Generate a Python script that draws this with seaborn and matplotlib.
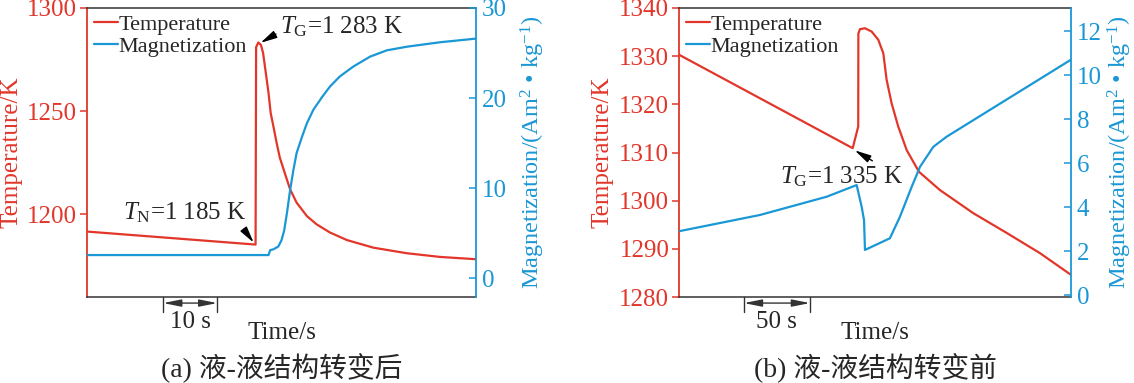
import matplotlib
matplotlib.use("Agg")
import matplotlib.pyplot as plt
import matplotlib.transforms as mtransforms
import seaborn as sns
import pandas as pd

# (a) after the liquid-liquid structure transition
A_T_TIME = [0, 31.2, 31.3, 31.7, 32.2, 32.6, 33.1, 33.6, 34.0, 34.5, 35.1, 35.7, 36.7, 37.6,
            38.8, 40.7, 42.5, 45.0, 48.1, 53.0, 59.2, 65.4, 72.0]
A_T_VAL = [1191.7, 1185.4, 1281.0, 1283.3, 1282.1, 1278.1, 1268.5, 1258.8, 1249.1, 1242.7,
           1234.6, 1227.4, 1219.3, 1212.1, 1205.7, 1199.2, 1195.2, 1191.2, 1187.6, 1183.9,
           1181.2, 1179.4, 1178.3]
A_M_TIME = [0, 33.6, 33.9, 34.5, 35.4, 36.0, 36.5, 37.0, 37.6, 38.2, 38.8, 39.8, 40.7, 41.9,
            43.5, 45.0, 46.8, 49.3, 52.4, 55.5, 59.2, 65.4, 72.0]
A_M_VAL = [2.56, 2.56, 3.1, 3.2, 3.5, 4.2, 5.3, 7.2, 9.8, 12.0, 13.9, 15.7, 17.2, 18.7,
           20.1, 21.3, 22.4, 23.5, 24.6, 25.3, 25.7, 26.2, 26.6]

# (b) before the liquid-liquid structure transition
B_T_TIME = [0, 131.6, 135.8, 135.9, 137.1, 140.9, 146.0, 151.0, 154.8, 157.3, 161.1, 166.1,
            172.5, 181.8, 197.7, 223.0, 248.3, 273.5, 297.0]
B_T_VAL = [1330.3, 1310.9, 1315.4, 1334.7, 1335.6, 1335.8, 1335.1, 1333.4, 1330.6, 1325.1,
           1320.2, 1315.4, 1310.5, 1306.0, 1302.2, 1297.4, 1293.3, 1289.1, 1284.6]
B_M_TIME = [0, 61.4, 111.9, 134.6, 138.4, 140.2, 140.9, 159.8, 167.4, 176.3, 182.6, 192.7, 202.8, 297.0]
B_M_VAL = [2.9, 3.64, 4.47, 5.0, 4.01, 3.4, 2.05, 2.58, 3.56, 4.92, 5.83, 6.74, 7.2, 10.7]

RED = "#E2362A"
BLUE = "#1A97D5"
DARK = "#333333"

sns.set_style("white")
plt.rcParams["font.family"] = ["Liberation Serif", "Noto Sans CJK SC"]
plt.rcParams["mathtext.fontset"] = "custom"
plt.rcParams["mathtext.rm"] = "Liberation Serif"
plt.rcParams["mathtext.it"] = "Liberation Serif:italic"
plt.rcParams["font.size"] = 18

fig = plt.figure(figsize=(11.34, 3.83), dpi=100)
ax_a = fig.add_axes([87 / 1134, 1 - 297 / 383, 389 / 1134, 289 / 383])
ax_b = fig.add_axes([679 / 1134, 1 - 297 / 383, 392 / 1134, 289 / 383])


def draw_panel(ax, t_time, t_val, m_time, m_val, xlim, tlim, tticks, mlim, mticks,
               bar, bar_label, caption, mlabel_x):
    df_t = pd.DataFrame({"time": t_time, "temp": t_val})
    df_m = pd.DataFrame({"time": m_time, "mag": m_val})
    sns.lineplot(data=df_t, x="time", y="temp", ax=ax, color=RED, lw=1.6,
                 estimator=None, sort=False, label="Temperature", legend=False)
    ax2 = ax.twinx()
    sns.lineplot(data=df_m, x="time", y="mag", ax=ax2, color=BLUE, lw=1.6,
                 estimator=None, sort=False, label="Magnetization", legend=False)

    ax.set_xlim(*xlim)
    ax.set_ylim(*tlim)
    ax2.set_ylim(*mlim)
    ax.set_yticks(tticks)
    ax2.set_yticks(mticks)
    ax.set_xticks([])

    for s in ["top", "bottom"]:
        ax.spines[s].set_color(DARK)
        ax.spines[s].set_linewidth(1.1)
        ax2.spines[s].set_visible(False)
    ax.spines["right"].set_visible(False)
    ax.spines["left"].set_color(RED)
    ax.spines["left"].set_linewidth(1.3)
    ax2.spines["left"].set_visible(False)
    ax2.spines["right"].set_color(BLUE)
    ax2.spines["right"].set_linewidth(1.3)

    ax.tick_params(axis="y", direction="out", length=5, width=1.1, color=RED,
                   labelcolor=RED, labelsize=18, pad=2)
    ax2.tick_params(axis="y", direction="in", length=5, width=1.1, color=BLUE,
                    labelcolor=BLUE, labelsize=18, pad=4)

    ax.set_ylabel("Temperature/K", color=RED, fontsize=18)
    ax.yaxis.set_label_coords(-0.166, 0.5)
    ax2.set_ylabel("Magnetization/(Am$^{2}$ • kg$^{-1}$)", color=BLUE, fontsize=17.5)
    ax2.yaxis.set_label_coords(mlabel_x, 0.5)
    ax.set_xlabel("Time/s", fontsize=18)
    ax.xaxis.set_label_coords(0.5, -0.085)

    # scale bar below the axis
    trans = mtransforms.blended_transform_factory(ax.transData, ax.transAxes)
    for x in bar:
        ax.plot([x, x], [0, -0.052], color=DARK, lw=1.0, transform=trans, clip_on=False)
    ax.annotate("", xy=(bar[0], -0.021), xytext=(bar[1], -0.021), xycoords=trans,
                textcoords=trans,
                arrowprops=dict(arrowstyle="<|-|>,head_length=0.6,head_width=0.12",
                                color=DARK, lw=1.0, shrinkA=0, shrinkB=0))
    ax.text((bar[0] + bar[1]) / 2, -0.085, bar_label, transform=trans, ha="center",
            va="center", fontsize=18)

    ax.text(0.5, -0.245, caption, transform=ax.transAxes, ha="center", va="center",
            fontsize=20)

    h1, l1 = ax.get_legend_handles_labels()
    h2, l2 = ax2.get_legend_handles_labels()
    ax.legend(h1 + h2, l1 + l2, loc="upper left", frameon=False, fontsize=16,
              handlelength=1.1, handletextpad=0.0, labelspacing=0.05,
              borderaxespad=0.1, borderpad=0.2)
    return ax2


draw_panel(ax_a, A_T_TIME, A_T_VAL, A_M_TIME, A_M_VAL, (0, 72.0), (1160, 1300),
           [1200, 1250, 1300], (-2.1, 30), [0, 10, 20, 30], (14.1, 24.1), "10 s",
           "(a) 液-液结构转变后", 1.11)
draw_panel(ax_b, B_T_TIME, B_T_VAL, B_M_TIME, B_M_VAL, (0, 297.0), (1280, 1340),
           list(range(1280, 1341, 10)), (-0.09, 13.05), [0, 2, 4, 6, 8, 10, 12],
           (49.2, 99.2), "50 s", "(b) 液-液结构转变前", 1.088)

arrow = dict(arrowstyle="-|>,head_length=0.55,head_width=0.13", color="black", lw=1.0,
             shrinkA=1, shrinkB=1)
ax_a.annotate("$T_{\\rm G}$=1 283 K", xy=(31.9, 1282.8), xytext=(35.8, 1291.0),
              ha="left", va="center", fontsize=18,
              arrowprops=dict(arrow, relpos=(0.0, 0.3)))
ax_a.annotate("$T_{\\rm N}$=1 185 K", xy=(31.0, 1185.8), xytext=(18.1, 1201.0),
              ha="center", va="center", fontsize=18,
              arrowprops=dict(arrow, relpos=(0.95, 0.0)))
ax_b.annotate("$T_{\\rm G}$=1 335 K", xy=(132.2, 1310.6), xytext=(123.5, 1304.9),
              ha="center", va="center", fontsize=18,
              arrowprops=dict(arrow, relpos=(0.8, 1.0)))

fig.savefig("out.png", dpi=100)
